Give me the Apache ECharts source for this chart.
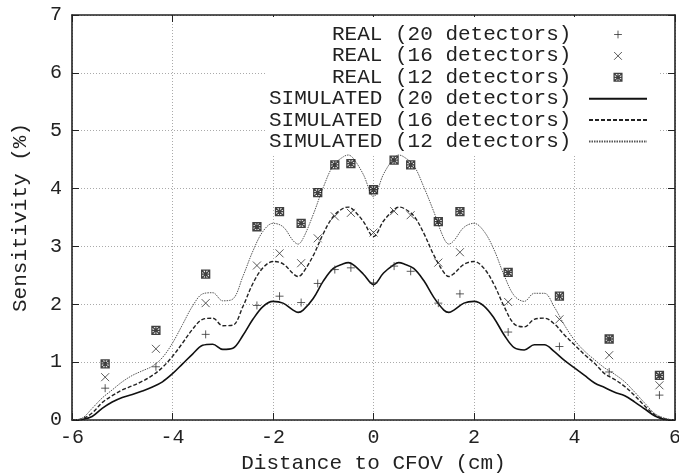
<!DOCTYPE html>
<html><head><meta charset="utf-8">
<script src="https://cdn.jsdelivr.net/npm/echarts@6/dist/echarts.min.js"></script>
<style>html,body{margin:0;padding:0;background:#fff}#c{width:679px;height:475px}</style>
</head><body><div id="c"></div>
<script>
var realX  = [-5.34, -4.33, -3.34, -2.32, -1.87, -1.44, -1.11, -0.77, -0.45, 0.0, 0.41, 0.74, 1.29, 1.72, 2.68, 3.70, 4.69, 5.69];
var real20 = [0.55, 0.92, 1.48, 1.98, 2.14, 2.03, 2.36, 2.60, 2.63, 2.37, 2.66, 2.57, 2.02, 2.18, 1.52, 1.27, 0.83, 0.43];
var real16 = [0.74, 1.23, 2.02, 2.67, 2.88, 2.71, 3.14, 3.52, 3.58, 3.24, 3.61, 3.54, 2.72, 2.90, 2.04, 1.74, 1.12, 0.60];
var real12 = [0.97, 1.55, 2.52, 3.34, 3.60, 3.40, 3.93, 4.41, 4.43, 3.98, 4.49, 4.41, 3.43, 3.60, 2.55, 2.14, 1.40, 0.77];

var simX = [-6.0,-5.8,-5.6,-5.4,-5.2,-5.0,-4.8,-4.6,-4.4,-4.2,-4.0,-3.8,-3.6,-3.4,-3.2,-3.0,-2.8,-2.6,-2.4,-2.2,-2.0,-1.8,-1.6,-1.5,-1.4,-1.2,-1.0,-0.8,-0.6,-0.5,-0.4,-0.2,
  0.0,0.2,0.4,0.5,0.6,0.8,1.0,1.2,1.4,1.5,1.6,1.8,2.0,2.2,2.4,2.6,2.8,3.0,3.2,3.4,3.6,3.8,4.0,4.2,4.4,4.6,4.8,5.0,5.2,5.4,5.6,5.8,6.0];
var sim20 = [0.00,0.01,0.06,0.20,0.31,0.39,0.44,0.50,0.57,0.66,0.80,0.97,1.14,1.29,1.31,1.22,1.24,1.46,1.74,1.96,2.05,2.02,1.90,1.86,1.90,2.10,2.40,2.62,2.70,2.72,2.68,2.52,
  2.34,2.54,2.68,2.72,2.70,2.62,2.41,2.12,1.90,1.86,1.90,2.02,2.05,1.97,1.76,1.47,1.25,1.21,1.30,1.30,1.18,1.03,0.90,0.77,0.64,0.56,0.48,0.42,0.31,0.19,0.07,0.01,0.00];
var sim16 = [0.00,0.02,0.12,0.30,0.42,0.52,0.59,0.67,0.77,0.91,1.10,1.33,1.57,1.74,1.76,1.63,1.64,1.96,2.36,2.63,2.74,2.70,2.53,2.48,2.55,2.84,3.22,3.52,3.66,3.68,3.63,3.43,
  3.17,3.44,3.63,3.68,3.66,3.53,3.23,2.85,2.55,2.48,2.53,2.69,2.74,2.62,2.34,1.96,1.66,1.61,1.74,1.76,1.66,1.47,1.30,1.13,0.98,0.80,0.70,0.58,0.42,0.24,0.09,0.02,0.00];
var sim12 = [0.00,0.03,0.20,0.38,0.52,0.66,0.77,0.85,0.93,1.08,1.33,1.65,1.97,2.18,2.20,2.06,2.09,2.48,2.92,3.26,3.40,3.34,3.10,3.04,3.14,3.55,4.02,4.40,4.55,4.58,4.52,4.24,
  3.86,4.25,4.52,4.58,4.55,4.40,4.03,3.60,3.14,3.04,3.10,3.33,3.40,3.26,2.94,2.50,2.15,2.05,2.19,2.19,1.95,1.64,1.38,1.19,1.04,0.90,0.79,0.66,0.48,0.29,0.11,0.03,0.00];

var xTicks = [-6, -4, -2, 0, 2, 4, 6];
var yTicks = [0, 1, 2, 3, 4, 5, 6, 7];

function pairs(xs, ys) { return xs.map(function (x, i) { return [x, ys[i]]; }); }

var FONT = 'Liberation Mono';
var INK = '#222';
var PLUS = 'path://M0,5L10,5M5,0L5,10';
var CROSS = 'path://M0,0L10,10M0,10L10,0';
var STAR = 'path://M0,0L10,0L10,10L0,10ZM0,0L10,10M0,10L10,0M5,0L5,10M0,5L10,5';
function padIcon(p) { return p.replace('path://', 'path://M-4,-4M14,14'); }
var markStyle = {color: 'transparent', borderColor: '#333', borderWidth: 1};
var starStyle = {color: 'transparent', borderColor: '#111', borderWidth: 1.3};
var hideSym = {opacity: 0, color: 'transparent', borderWidth: 0};

var chart = echarts.init(document.getElementById('c'), null, {renderer: 'canvas'});
chart.setOption({
  animation: false,
  backgroundColor: '#fff',
  grid: {left: 72, right: 4, top: 15, bottom: 55, containLabel: false, outerBoundsMode: 'none'},
  legend: {
    orient: 'vertical', align: 'right', right: 19, top: 17,
    padding: [7, 12, 2, 2], backgroundColor: '#fff',
    itemWidth: 58, itemHeight: 14, itemGap: 0.4,
    textStyle: {fontFamily: FONT, fontSize: 21, color: INK, lineHeight: 21},
    formatter: function (n) { return n + ' '; },
    data: [
      {name: 'REAL (20 detectors)', icon: padIcon(PLUS), itemStyle: markStyle},
      {name: 'REAL (16 detectors)', icon: padIcon(CROSS), itemStyle: markStyle},
      {name: 'REAL (12 detectors)', icon: padIcon(STAR), itemStyle: starStyle},
      {name: 'SIMULATED (20 detectors)', itemStyle: hideSym},
      {name: 'SIMULATED (16 detectors)', itemStyle: hideSym},
      {name: 'SIMULATED (12 detectors)', itemStyle: hideSym}
    ]
  },
  xAxis: [{
    type: 'value', min: -6, max: 6, interval: 2, position: 'bottom',
    name: 'Distance to CFOV (cm)', nameLocation: 'middle', nameGap: 33,
    nameTextStyle: {fontFamily: FONT, fontSize: 21, color: INK},
    axisLine: {onZero: false, lineStyle: {color: INK, width: 1.6}},
    axisTick: {inside: true, length: 7, lineStyle: {color: INK, width: 1}},
    axisLabel: {fontFamily: FONT, fontSize: 20, color: INK, margin: 8,
      formatter: function (v) { return xTicks.indexOf(v) >= 0 ? String(v) : ''; }},
    splitLine: {show: true, lineStyle: {color: '#aaa', width: 1, type: [1, 2]}}
  }, {
    type: 'value', min: -6, max: 6, interval: 2, position: 'top',
    axisLine: {onZero: false, lineStyle: {color: INK, width: 1.6}},
    axisTick: {inside: true, length: 7, lineStyle: {color: INK, width: 1}},
    axisLabel: {show: false}, splitLine: {show: false}
  }],
  yAxis: [{
    type: 'value', min: 0, max: 7, interval: 1, position: 'left',
    name: 'Sensitivity (%)', nameLocation: 'middle', nameGap: 41,
    nameTextStyle: {fontFamily: FONT, fontSize: 21, color: INK},
    axisLine: {show: true, onZero: false, lineStyle: {color: INK, width: 1.6}},
    axisTick: {show: true, inside: true, length: 7, lineStyle: {color: INK, width: 1}},
    axisLabel: {fontFamily: FONT, fontSize: 20, color: INK, margin: 10,
      formatter: function (v) { return yTicks.indexOf(v) >= 0 ? String(v) : ''; }},
    splitLine: {show: true, lineStyle: {color: '#aaa', width: 1, type: [1, 2]}}
  }, {
    type: 'value', min: 0, max: 7, interval: 1, position: 'right',
    axisLine: {show: true, onZero: false, lineStyle: {color: INK, width: 1.6}},
    axisTick: {show: true, inside: true, length: 7, lineStyle: {color: INK, width: 1}},
    axisLabel: {show: false}, splitLine: {show: false}
  }],
  series: [
    {name: 'REAL (20 detectors)', type: 'scatter', symbol: PLUS, symbolSize: 8, z: 5,
      itemStyle: markStyle, data: pairs(realX, real20)},
    {name: 'REAL (16 detectors)', type: 'scatter', symbol: CROSS, symbolSize: 8, z: 5,
      itemStyle: markStyle, data: pairs(realX, real16)},
    {name: 'REAL (12 detectors)', type: 'scatter', symbol: STAR, symbolSize: 8, z: 5,
      itemStyle: starStyle, data: pairs(realX, real12)},
    {name: 'SIMULATED (20 detectors)', type: 'line', symbol: 'none', smooth: 0.35,
      itemStyle: {color: '#111'}, lineStyle: {color: '#111', width: 1.6, type: 'solid'}, data: pairs(simX, sim20)},
    {name: 'SIMULATED (16 detectors)', type: 'line', symbol: 'none', smooth: 0.35,
      itemStyle: {color: '#222'}, lineStyle: {color: '#222', width: 1.4, type: [4, 2]}, data: pairs(simX, sim16)},
    {name: 'SIMULATED (12 detectors)', type: 'line', symbol: 'none', smooth: 0.35,
      itemStyle: {color: '#555'}, lineStyle: {color: '#555', width: 1, type: [1.5, 1]}, data: pairs(simX, sim12)}
  ]
});
</script></body></html>
